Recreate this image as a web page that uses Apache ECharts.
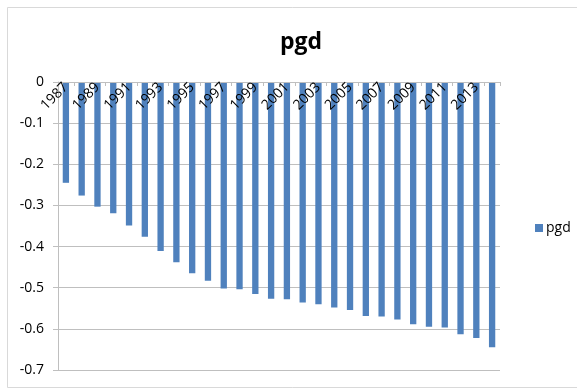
<!DOCTYPE html>
<html>
<head>
<meta charset="utf-8">
<script src="https://cdn.jsdelivr.net/npm/echarts@6/dist/echarts.min.js"></script>
<style>
  html, body { margin: 0; padding: 0; background: #ffffff; }
  #chart { width: 577px; height: 389px; }
</style>
</head>
<body>
<div id="chart"></div>
<script>
// Years on the category axis
const years = [
  '1987', '1988', '1989', '1990', '1991', '1992', '1993', '1994', '1995', '1996',
  '1997', '1998', '1999', '2000', '2001', '2002', '2003', '2004', '2005', '2006',
  '2007', '2008', '2009', '2010', '2011', '2012', '2013', '2014'
];

// pgd value per year
const pgd = [
  -0.245, -0.276, -0.303, -0.319, -0.349, -0.376, -0.411, -0.438, -0.465, -0.483,
  -0.502, -0.504, -0.515, -0.527, -0.528, -0.536, -0.540, -0.548, -0.554, -0.569,
  -0.570, -0.577, -0.589, -0.595, -0.597, -0.613, -0.622, -0.645
];

// Value axis range
const yMin = -0.7;
const yMax = 0;
const yStep = 0.1;

const W = 577, H = 389;
const gridTop = 82, gridBottom = 19;
const plotHeight = H - gridTop - gridBottom;

const chart = echarts.init(document.getElementById('chart'), null, { renderer: 'canvas' });

const font = '"Open Sans", "Noto Sans", sans-serif';

chart.setOption({
  animation: false,
  backgroundColor: '#ffffff',
  textStyle: { fontFamily: font },
  graphic: [{
    type: 'rect',
    shape: { x: 7.5, y: 7.5, width: 620, height: 380 },
    style: { fill: 'none', stroke: '#d9d9d9', lineWidth: 1 },
    silent: true,
    z: -1
  }],
  title: {
    text: 'pgd',
    left: 296,
    textAlign: 'center',
    top: 26,
    textStyle: { fontFamily: font, fontSize: 23, fontWeight: 'bold', color: '#000000' }
  },
  legend: {
    left: 530,
    top: 216,
    orient: 'vertical',
    icon: 'rect',
    itemWidth: 8,
    itemHeight: 8,
    itemGap: 4,
    textStyle: { fontFamily: font, fontSize: 14, color: '#000000', padding: [0, 0, 0, -2] },
    data: ['pgd']
  },
  grid: { left: 58, right: 77, top: gridTop, bottom: gridBottom, containLabel: false },
  xAxis: {
    type: 'category',
    position: 'bottom',
    // the zero line sits at the top of the plot, so the category axis is lifted onto it
    offset: -plotHeight,
    z: 5,
    data: years,
    boundaryGap: true,
    axisLine: { onZero: false, lineStyle: { color: '#bfbfbf', width: 1 } },
    axisTick: { show: true, length: 4, interval: 0, lineStyle: { color: '#bfbfbf' } },
    axisLabel: {
      interval: 1,
      rotate: 45,
      margin: 3,
      fontFamily: font,
      fontSize: 14,
      color: '#000000'
    },
    splitLine: { show: false }
  },
  yAxis: {
    type: 'value',
    min: yMin,
    max: yMax,
    interval: yStep,
    axisLine: { show: true, lineStyle: { color: '#bfbfbf', width: 1 } },
    axisTick: { show: true, length: 5, lineStyle: { color: '#bfbfbf' } },
    axisLabel: {
      margin: 14,
      fontFamily: font,
      fontSize: 14,
      color: '#000000',
      formatter: function (v) { return String(Math.round(v * 10) / 10); }
    },
    splitLine: { show: true, lineStyle: { color: '#bfbfbf', width: 1 } }
  },
  series: [{
    name: 'pgd',
    type: 'bar',
    data: pgd,
    barWidth: '40%',
    itemStyle: { color: '#4f81bd' }
  }]
});
</script>
</body>
</html>
